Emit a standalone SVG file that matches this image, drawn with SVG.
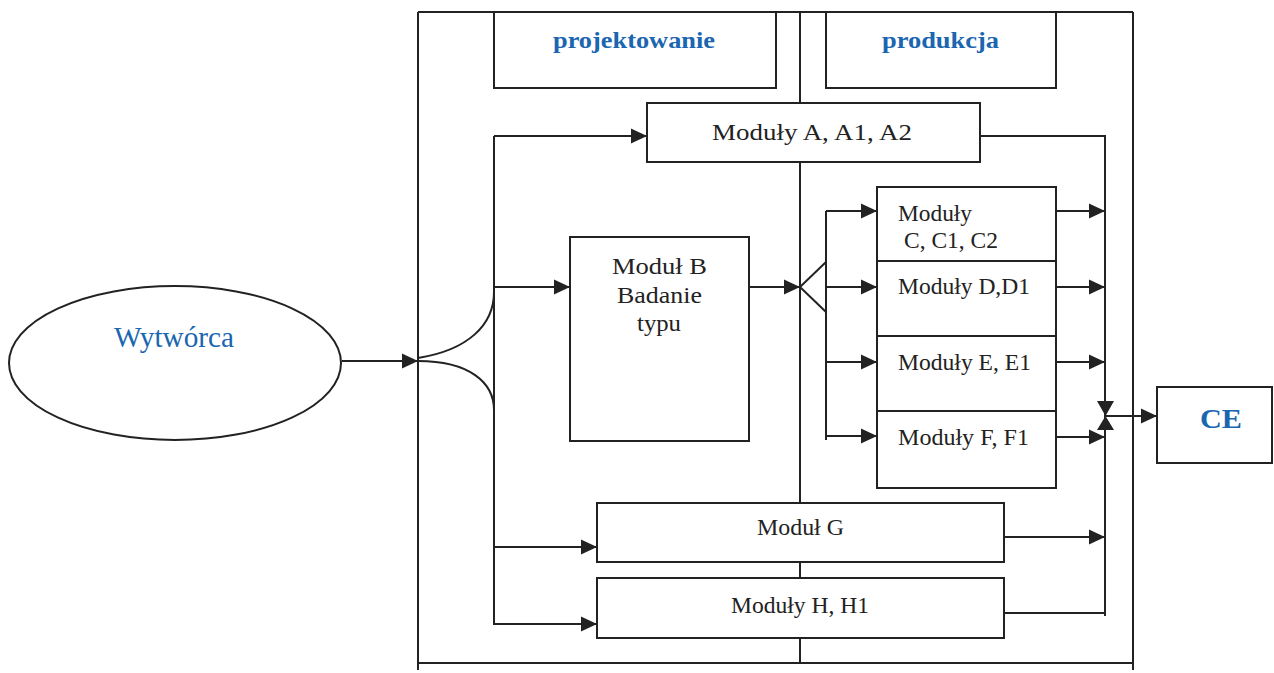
<svg xmlns="http://www.w3.org/2000/svg" width="1274" height="673" viewBox="0 0 1274 673">
<defs>
<marker id="arr" markerUnits="userSpaceOnUse" markerWidth="17" markerHeight="16" refX="16" refY="8" orient="auto">
<path d="M0,0.5 L16,8 L0,15.5 z" fill="#222"/>
</marker>
<style>
.ln{fill:none;stroke:#222;stroke-width:2}
.box{fill:#fff;stroke:#222;stroke-width:2}
.t{font-family:"Liberation Serif","Times New Roman",serif;font-size:24px;fill:#222}
.hb{font-family:"Liberation Serif","Times New Roman",serif;font-size:23px;font-weight:bold;fill:#1a66b0}
.a{marker-end:url(#arr)}
</style>
</defs>
<rect width="1274" height="673" fill="#fff"/>

<g id="frame">
<path class="ln" d="M418,12 H1133 M418,12 V670 M1133,12 V670 M418,663 H1133 M800,12 V663"/>
</g>

<g id="connectors">
<path class="ln a" d="M342,361 H418"/>
<path class="ln" d="M418,358 C468,350 494,325 494,292"/>
<path class="ln" d="M418,361 C470,361 494,383 494,410"/>
<path class="ln" d="M494,136 V625"/>
<path class="ln a" d="M494,136 H647"/>
<path class="ln a" d="M494,287 H570"/>
<path class="ln a" d="M494,547 H597"/>
<path class="ln a" d="M494,624 H597"/>
<path class="ln a" d="M749,287 H800"/>
<path class="ln" d="M826,262 L800,287 L826,312"/>
<path class="ln" d="M826,211 V440"/>
<path class="ln a" d="M826,211 H877"/>
<path class="ln a" d="M826,287 H877"/>
<path class="ln a" d="M826,362 H877"/>
<path class="ln a" d="M826,436 H877"/>
<path class="ln" d="M980,136 H1105 V616"/>
<path class="ln a" d="M1028,211 H1105"/>
<path class="ln a" d="M1056,287 H1105"/>
<path class="ln a" d="M1056,362 H1105"/>
<path class="ln a" d="M1056,437 H1105"/>
<path class="ln a" d="M1004,537 H1105"/>
<path class="ln" d="M1004,613 H1105"/>
<path d="M1097,401 L1114,401 L1105.5,416 z M1105.5,416 L1097,430 L1114,430 z" fill="#222"/>
<path class="ln a" d="M1105,416 H1157"/>
</g>

<g id="wytworca">
<ellipse cx="175" cy="363" rx="166" ry="77" class="ln"/>
<text class="t" x="114" y="347" style="font-size:30px;fill:#1a66b0" textLength="120" lengthAdjust="spacingAndGlyphs">Wytwórca</text>
</g>

<g id="projektowanie">
<rect class="box" x="494" y="12" width="282" height="76"/>
<text class="hb" x="553" y="48" textLength="162" lengthAdjust="spacingAndGlyphs">projektowanie</text>
</g>

<g id="produkcja">
<rect class="box" x="826" y="12" width="230" height="76"/>
<text class="hb" x="882" y="48" textLength="117" lengthAdjust="spacingAndGlyphs">produkcja</text>
</g>

<g id="modulA">
<rect class="box" x="647" y="103" width="333" height="59"/>
<text class="t" x="712" y="140" textLength="200" lengthAdjust="spacingAndGlyphs">Moduły A, A1, A2</text>
</g>

<g id="modulB">
<rect class="box" x="570" y="237" width="179" height="204"/>
<text class="t" x="612" y="274" textLength="95" lengthAdjust="spacingAndGlyphs">Moduł B</text>
<text class="t" x="617" y="303" textLength="85" lengthAdjust="spacingAndGlyphs">Badanie</text>
<text class="t" x="637" y="331" textLength="44" lengthAdjust="spacingAndGlyphs">typu</text>
</g>

<g id="modulC">
<rect class="box" x="877" y="187" width="179" height="74"/>
<text class="t" x="898" y="221" textLength="74" lengthAdjust="spacingAndGlyphs">Moduły</text>
<text class="t" x="904" y="248" textLength="94" lengthAdjust="spacingAndGlyphs">C, C1, C2</text>
</g>

<g id="modulD">
<rect class="box" x="877" y="261" width="179" height="75"/>
<text class="t" x="898" y="294" textLength="132" lengthAdjust="spacingAndGlyphs">Moduły D,D1</text>
</g>

<g id="modulE">
<rect class="box" x="877" y="336" width="179" height="75"/>
<text class="t" x="898" y="370" textLength="133" lengthAdjust="spacingAndGlyphs">Moduły E, E1</text>
</g>

<g id="modulF">
<rect class="box" x="877" y="411" width="179" height="77"/>
<text class="t" x="898" y="445" textLength="131" lengthAdjust="spacingAndGlyphs">Moduły F, F1</text>
</g>

<g id="modulG">
<rect class="box" x="597" y="503" width="407" height="59"/>
<text class="t" x="757" y="535" textLength="87" lengthAdjust="spacingAndGlyphs">Moduł G</text>
</g>

<g id="modulH">
<rect class="box" x="597" y="578" width="407" height="60"/>
<text class="t" x="731" y="613" textLength="138" lengthAdjust="spacingAndGlyphs">Moduły H, H1</text>
</g>

<g id="ce">
<rect class="box" x="1157" y="387" width="115" height="76"/>
<text class="hb" x="1200" y="428" style="font-size:28px" textLength="42" lengthAdjust="spacingAndGlyphs">CE</text>
</g>
</svg>
